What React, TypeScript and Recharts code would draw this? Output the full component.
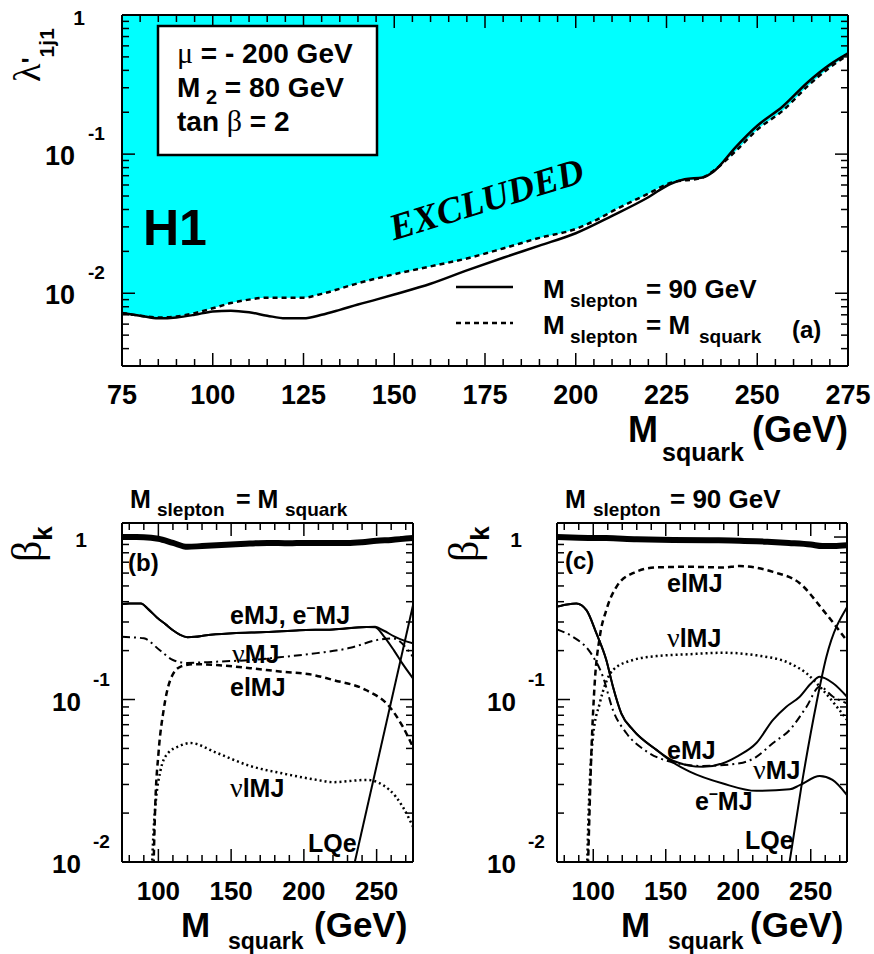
import React from 'react';
import { ComposedChart, Line, Area, XAxis, YAxis } from 'recharts';

type Pt = [number, number];

const SANS = '"Liberation Sans", Arial, Helvetica, sans-serif';
const SERIF = '"Liberation Serif", "Times New Roman", serif';
const CYAN = '#00ffff';

// ---- (a) lambda' limit vs M_squark ----
const aSlepton90: Pt[] = [
    [75, 0.0072], [80, 0.0069], [85, 0.0066], [90, 0.0067], [95, 0.0070], [100, 0.0074],
    [105, 0.0075], [110, 0.0073], [115, 0.0069], [120, 0.0066], [125, 0.0066], [130, 0.0070],
    [135, 0.0076], [140, 0.0083], [145, 0.0090], [150, 0.0098], [160, 0.0117], [170, 0.0146],
    [180, 0.018], [190, 0.022], [200, 0.027], [210, 0.036], [220, 0.049], [226, 0.061],
    [230, 0.066], [235, 0.068], [238, 0.075], [244, 0.112], [250, 0.16], [257, 0.22],
    [264, 0.33], [270, 0.44], [275, 0.53],
];
const aSleptonEqSquark: Pt[] = [
    [75, 0.0072], [80, 0.0069], [85, 0.0067], [90, 0.0068], [95, 0.0072], [100, 0.0078],
    [105, 0.0085], [110, 0.0090], [115, 0.0093], [120, 0.0093], [125, 0.0093], [130, 0.0099],
    [140, 0.0118], [150, 0.0137], [160, 0.0156], [170, 0.0178], [180, 0.021], [190, 0.025],
    [200, 0.029], [206, 0.034], [211, 0.040], [220, 0.052], [226, 0.062], [235, 0.068],
    [238, 0.076], [244, 0.105], [250, 0.15], [257, 0.205], [264, 0.31], [270, 0.42], [275, 0.515],
];

// ---- (b) beta_k, M_slepton = M_squark ----
const bTotal: Pt[] = [
    [75, 1.0], [85, 1.0], [95, 0.99], [100, 0.975], [110, 0.92], [120, 0.87], [130, 0.88],
    [140, 0.89], [150, 0.9], [160, 0.91], [175, 0.92], [190, 0.915], [200, 0.92], [215, 0.92],
    [230, 0.92], [240, 0.93], [250, 0.95], [260, 0.96], [275, 0.985],
];
const bEMJCommon: Pt[] = [
    [75, 0.387], [80, 0.39], [88, 0.39], [93, 0.36], [99, 0.32], [105, 0.29], [110, 0.267],
    [115, 0.25], [120, 0.242], [125, 0.243], [133, 0.249], [151, 0.256], [174, 0.26],
    [197, 0.267], [220, 0.27], [243, 0.279],
];
const bEMJ: Pt[] = [...bEMJCommon, [249, 0.28], [255, 0.265], [262, 0.245], [268, 0.232], [275, 0.222]];
const bEbarMJ: Pt[] = [...bEMJCommon, [249, 0.278], [255, 0.245], [262, 0.2], [268, 0.165], [275, 0.135]];
const bNuMJ: Pt[] = [
    [75, 0.243], [90, 0.238], [101, 0.201], [110, 0.175], [119.5, 0.168], [140, 0.171],
    [163, 0.175], [186, 0.183], [209, 0.193], [232, 0.208], [250, 0.232], [261, 0.238], [275, 0.183],
];
const bElMJ: Pt[] = [
    [96.7, 0.0095], [97.9, 0.023], [100.1, 0.047], [103.6, 0.086], [108.2, 0.132], [115, 0.159],
    [124, 0.165], [140, 0.163], [163, 0.156], [186, 0.148], [204, 0.143], [220, 0.132],
    [243, 0.114], [259, 0.09], [268, 0.068], [275, 0.051],
];
const bNulMJ: Pt[] = [
    [95.6, 0.0095], [96.8, 0.016], [98.5, 0.025], [101.3, 0.036], [105.9, 0.046], [115, 0.052],
    [122, 0.054], [140, 0.047], [163, 0.039], [186, 0.035], [209, 0.032], [220, 0.031],
    [243, 0.032], [259, 0.0277], [268, 0.0218], [275, 0.0165],
];
const bLQe: Pt[] = [[235, 0.01], [275, 0.38]];

// ---- (c) beta_k, M_slepton = 90 GeV ----
const cTotal: Pt[] = [
    [75, 1.0], [90, 0.99], [109, 0.985], [130, 0.97], [155, 0.96], [180, 0.955], [201, 0.95],
    [220, 0.935], [235, 0.92], [250, 0.9], [258, 0.88], [266, 0.88], [275, 0.89],
];
const cEMJCommon: Pt[] = [
    [75, 0.373], [82, 0.385], [88.4, 0.39], [95.3, 0.355], [102.2, 0.255], [109, 0.175],
    [113.6, 0.12], [119.4, 0.082], [127.4, 0.065], [143.6, 0.049],
];
const cEMJ: Pt[] = [
    ...cEMJCommon, [155, 0.042], [175.7, 0.0385], [189.5, 0.0405], [200, 0.045], [212.5, 0.054],
    [224, 0.075], [233, 0.09], [242.4, 0.104], [250, 0.125], [256.2, 0.138], [265.4, 0.126], [275, 0.104],
];
const cEbarMJ: Pt[] = [
    ...cEMJCommon, [155, 0.041], [166.5, 0.036], [189.5, 0.0304], [212.5, 0.0274], [235.5, 0.028],
    [242.4, 0.0297], [256.2, 0.0338], [265, 0.032], [275, 0.0258],
];
const cNuMJ: Pt[] = [
    [75, 0.27], [86, 0.243], [97.6, 0.197], [106.7, 0.138], [113.6, 0.086], [122.9, 0.062],
    [136.7, 0.048], [155, 0.041], [175.7, 0.039], [201, 0.0405], [212.5, 0.0444], [224, 0.054],
    [235.5, 0.065], [247, 0.09], [256.2, 0.12], [265.4, 0.104], [275, 0.0946],
];
const cElMJ: Pt[] = [
    [96.4, 0.0095], [98.7, 0.047], [101, 0.126], [104.5, 0.243], [109, 0.355], [116, 0.494],
    [127.4, 0.6], [143.5, 0.65], [166.5, 0.656], [189.5, 0.65], [201, 0.663], [224, 0.61],
    [242.4, 0.52], [258.5, 0.355], [275, 0.23],
];
const cNulMJ: Pt[] = [
    [95.8, 0.0095], [96.8, 0.02], [97.9, 0.035], [99.8, 0.059], [104.5, 0.095], [113.6, 0.152],
    [127.4, 0.175], [143.6, 0.185], [166.5, 0.19], [189.5, 0.194], [212.5, 0.187], [235.5, 0.167],
    [247, 0.145], [258.5, 0.114], [275, 0.075],
];
const cLQe: Pt[] = [[235, 0.0095], [243.5, 0.029], [253.9, 0.0946], [260.8, 0.183], [275, 0.37]];

// ---- axis ticks ----
const aXTicks = Array.from({ length: 41 }, (_, i) => 75 + i * 5);
const aXLabels = [75, 100, 125, 150, 175, 200, 225, 250, 275];
const bcXTicks = Array.from({ length: 20 }, (_, i) => 80 + i * 10);
const bcXLabels = [100, 150, 200, 250];
const yLabels = [0.01, 0.1, 1];
const logTicks = (lo: number, hi: number) => {
    const out: number[] = [];
    for (let e = -3; e <= 0; e++)
        for (let k = 1; k <= 9; k++) {
            const v = Number((k * 10 ** e).toPrecision(6));
            if (v >= lo && v <= hi) out.push(v);
        }
    return out;
};
const aYTicks = logTicks(0.003, 1);
const bcYTicks = logTicks(0.01, 1.22);

const pts = (arr: Pt[]) => arr.map(([m, v]) => ({ m, v }));
const isIn = (v: number, list: number[]) => list.some((t) => Math.abs(t - v) <= 1e-9 * Math.abs(t));

const bold = { fontFamily: SANS, fontWeight: 700 } as const;

type LabelFn = (v: number, x: number, y: number) => React.ReactNode;

// ROOT-like inward ticks; major ones get a label
const tick = (side: 'b' | 't' | 'l' | 'r', majors: number[], label?: LabelFn) => (p: any) => {
    const v = p.payload.value as number;
    const x = p.x as number;
    const y = p.y as number;
    const major = isIn(v, majors);
    const L = major ? 13 : 7;
    const d =
        side === 'b' ? [x, y, x, y - L] :
        side === 't' ? [x, y, x, y + L] :
        side === 'l' ? [x, y, x + L, y] : [x, y, x - L, y];
    return (
        <g>
            <line x1={d[0]} y1={d[1]} x2={d[2]} y2={d[3]} stroke="#000" strokeWidth={1.5} />
            {major && label ? label(v, x, y) : null}
        </g>
    );
};

const xLabel = (fs: number): LabelFn => (v, x, y) => (
    <text x={x} y={y + 38} textAnchor="middle" fontSize={fs} {...bold}>{v}</text>
);

const yLabel = (tenR: number, supL: number, oneR: number, fs: number): LabelFn => (v, x, y) => {
    if (v === 1) {
        return <text x={x - oneR} y={y + 10} textAnchor="end" fontSize={21} {...bold}>1</text>;
    }
    const e = Math.round(Math.log10(v));
    return (
        <g>
            <text x={x - tenR} y={y + 11} textAnchor="end" fontSize={fs} {...bold}>10</text>
            <text x={x - supL} y={y - 14} fontSize={19} {...bold}>{e}</text>
        </g>
    );
};

const frame = { stroke: '#000', strokeWidth: 2 };

// axes are 1px thick so recharts draws them; margins are reduced by that 1px
const axes = (
    xDom: [number, number], xTicks: number[], xMajors: number[], xFs: number,
    yDom: [number, number], yTicks: number[], yLab: LabelFn,
) => [
    <XAxis key="xb" xAxisId={0} dataKey="m" type="number" domain={xDom} allowDataOverflow ticks={xTicks}
        interval={0} height={1} tickSize={0} tickMargin={0} tickLine={false} axisLine={frame}
        tick={tick('b', xMajors, xLabel(xFs))} />,
    <XAxis key="xt" xAxisId="t" orientation="top" dataKey="m" type="number" domain={xDom} allowDataOverflow
        ticks={xTicks} interval={0} height={1} tickSize={0} tickMargin={0} tickLine={false} axisLine={frame}
        tick={tick('t', xMajors)} />,
    <YAxis key="yl" yAxisId={0} type="number" scale="log" domain={yDom} allowDataOverflow ticks={yTicks}
        interval={0} width={1} tickSize={0} tickMargin={0} tickLine={false} axisLine={frame}
        tick={tick('l', yLabels, yLab)} />,
    <YAxis key="yr" yAxisId="r" orientation="right" type="number" scale="log" domain={yDom} allowDataOverflow
        ticks={yTicks} interval={0} width={1} tickSize={0} tickMargin={0} tickLine={false} axisLine={frame}
        tick={tick('r', yLabels)} />,
];

type Series = { data: Pt[]; w: number; dash?: string; linear?: boolean };

const styleSolid = (data: Pt[], w = 2): Series => ({ data, w });

const BetaChart = ({ left, width, ml, series }: { left: number; width: number; ml: number; series: Series[] }) => (
    <div style={{ position: 'absolute', left, top: 480 }}>
        <ComposedChart width={width} height={474} margin={{ top: 42, right: 26, bottom: 91, left: ml - 1 }}>
            {series.map((s, i) => (
                <Line key={i} data={pts(s.data)} dataKey="v" type={s.linear ? 'linear' : 'monotone'}
                    stroke="#000" strokeWidth={s.w} strokeDasharray={s.dash} dot={false}
                    isAnimationActive={false} />
            ))}
            {axes([75, 275], bcXTicks, bcXLabels, 26, [0.01, 1.22], bcYTicks, yLabel(41, 29, 35, 26))}
        </ComposedChart>
    </div>
);

const DASH = '6 4';
const DOT = '2 3';
const DASHDOT = '8 4 2 4';

const bSeries: Series[] = [
    styleSolid(bTotal, 6),
    styleSolid(bEMJ),
    styleSolid(bEbarMJ),
    { data: bNuMJ, w: 2, dash: DASHDOT },
    { data: bElMJ, w: 2.5, dash: DASH },
    { data: bNulMJ, w: 2.5, dash: DOT },
    { data: bLQe, w: 2, linear: true },
];
const cSeries: Series[] = [
    styleSolid(cTotal, 6),
    styleSolid(cEMJ),
    styleSolid(cEbarMJ),
    { data: cNuMJ, w: 2, dash: DASHDOT },
    { data: cElMJ, w: 2.5, dash: DASH },
    { data: cNulMJ, w: 2.5, dash: DOT },
    styleSolid(cLQe),
];

const aFill = aSleptonEqSquark.map(([m, v]) => ({ m, band: [v, 1] }));

const Nu = () => <tspan fontFamily={SERIF} fontWeight={400} fontSize={28}>ν</tspan>;

export default function App() {
    return (
        <div style={{ position: 'absolute', left: 0, top: 0, width: 874, height: 954, background: '#fff' }}>
            <div style={{ position: 'absolute', left: 0, top: 0 }}>
                <ComposedChart width={874} height={470} margin={{ top: 14, right: 25, bottom: 103, left: 121 }}>
                    <Area data={aFill} dataKey="band" type="monotone" stroke="none" fill={CYAN} fillOpacity={1}
                        isAnimationActive={false} />
                    <Line data={pts(aSleptonEqSquark)} dataKey="v" type="monotone" stroke="#000" strokeWidth={2.5}
                        strokeDasharray="5 4" dot={false} isAnimationActive={false} />
                    <Line data={pts(aSlepton90)} dataKey="v" type="monotone" stroke="#000" strokeWidth={2.5}
                        dot={false} isAnimationActive={false} />
                    {axes([75, 275], aXTicks, aXLabels, 27, [0.003, 1], aYTicks, yLabel(47, 34, 37, 27))}
                </ComposedChart>
            </div>
            <BetaChart left={0} width={440} ml={122} series={bSeries} />
            <BetaChart left={440} width={434} ml={117} series={cSeries} />

            <svg width={874} height={954} style={{ position: 'absolute', left: 0, top: 0, pointerEvents: 'none' }}>
                {/* panel (a) annotations */}
                <rect x={158} y={26} width={219} height={129} fill="#fff" stroke="#000" strokeWidth={2.5} />
                <text x={177} y={63} fontSize={28} {...bold}>
                    <tspan fontFamily={SERIF} fontWeight={400} fontSize={30}>μ</tspan> = - 200 GeV
                </text>
                <text x={177} y={97} fontSize={28} {...bold}>
                    M<tspan fontSize={20} dy={7}> 2</tspan><tspan dy={-7}> = 80 GeV</tspan>
                </text>
                <text x={177} y={131} fontSize={28} {...bold}>
                    tan <tspan fontFamily={SERIF} fontWeight={400} fontSize={30}>β</tspan> = 2
                </text>
                <text x={143} y={245} fontSize={50} {...bold}>H1</text>
                <text x={490} y={211} textAnchor="middle" fontSize={37} fontFamily={SERIF} fontWeight={700}
                    fontStyle="italic" transform="rotate(-17 490 211)">EXCLUDED</text>

                <line x1={456} y1={287} x2={513} y2={287} stroke="#000" strokeWidth={2.5} />
                <line x1={456} y1={323} x2={513} y2={323} stroke="#000" strokeWidth={2.5} strokeDasharray="5 4" />
                <text fontSize={26} {...bold}>
                    <tspan x={543} y={298}>M</tspan>
                    <tspan x={570} y={307} fontSize={19}>slepton</tspan>
                    <tspan x={646} y={298}>= 90 GeV</tspan>
                </text>
                <text fontSize={26} {...bold}>
                    <tspan x={543} y={334}>M</tspan>
                    <tspan x={570} y={343} fontSize={19}>slepton</tspan>
                    <tspan x={646} y={334}>= M</tspan>
                    <tspan x={699} y={343} fontSize={19}>squark</tspan>
                </text>
                <text x={792} y={338} fontSize={24} {...bold}>(a)</text>

                <text transform="translate(40 82) rotate(-90)" fontSize={38}>
                    <tspan fontFamily={SERIF}>λ</tspan>
                    <tspan {...bold} fontSize={26}>'</tspan>
                    <tspan {...bold} fontSize={21} dy={14}>1j1</tspan>
                </text>
                <text {...bold}>
                    <tspan x={628} y={442} fontSize={36}>M</tspan>
                    <tspan x={662} y={461} fontSize={25}>squark</tspan>
                    <tspan x={752} y={442} fontSize={36}>(GeV)</tspan>
                </text>

                {/* panel (b) */}
                <text {...bold}>
                    <tspan x={130} y={508} fontSize={25}>M</tspan>
                    <tspan x={157} y={516} fontSize={19}>slepton</tspan>
                    <tspan x={236} y={508} fontSize={25}>= M</tspan>
                    <tspan x={285} y={516} fontSize={19}>squark</tspan>
                </text>
                <text transform="translate(41 562) rotate(-90)">
                    <tspan fontFamily={SERIF} fontSize={42}>β</tspan>
                    <tspan {...bold} fontSize={26} dy={11}>k</tspan>
                </text>
                <text x={128} y={571} fontSize={24} {...bold}>(b)</text>
                <text x={230} y={624} fontSize={25} {...bold}>
                    eMJ, e<tspan dy={-11} fontSize={16}>–</tspan><tspan dy={11}>MJ</tspan>
                </text>
                <text x={232} y={663} fontSize={25} {...bold}><Nu />MJ</text>
                <text x={230} y={696} fontSize={25} {...bold}>elMJ</text>
                <text x={230} y={797} fontSize={25} {...bold}><Nu />lMJ</text>
                <text x={308} y={852} fontSize={25} {...bold}>LQe</text>
                <text {...bold}>
                    <tspan x={181} y={937} fontSize={35}>M</tspan>
                    <tspan x={228} y={949} fontSize={23}>squark</tspan>
                    <tspan x={314} y={937} fontSize={35}>(GeV)</tspan>
                </text>

                {/* panel (c) */}
                <text {...bold}>
                    <tspan x={565} y={508} fontSize={25}>M</tspan>
                    <tspan x={593} y={516} fontSize={19}>slepton</tspan>
                    <tspan x={670} y={508} fontSize={26}>= 90 GeV</tspan>
                </text>
                <text transform="translate(478 562) rotate(-90)">
                    <tspan fontFamily={SERIF} fontSize={42}>β</tspan>
                    <tspan {...bold} fontSize={26} dy={11}>k</tspan>
                </text>
                <text x={565} y={569} fontSize={24} {...bold}>(c)</text>
                <text x={667} y={592} fontSize={25} {...bold}>elMJ</text>
                <text x={667} y={647} fontSize={25} {...bold}><Nu />lMJ</text>
                <text x={667} y={759} fontSize={25} {...bold}>eMJ</text>
                <text x={753} y={779} fontSize={25} {...bold}><Nu />MJ</text>
                <text x={695} y={810} fontSize={25} {...bold}>
                    e<tspan dy={-11} fontSize={16}>–</tspan><tspan dy={11}>MJ</tspan>
                </text>
                <text x={745} y={849} fontSize={25} {...bold}>LQe</text>
                <text {...bold}>
                    <tspan x={621} y={937} fontSize={35}>M</tspan>
                    <tspan x={668} y={949} fontSize={23}>squark</tspan>
                    <tspan x={750} y={937} fontSize={35}>(GeV)</tspan>
                </text>
            </svg>
        </div>
    );
}
